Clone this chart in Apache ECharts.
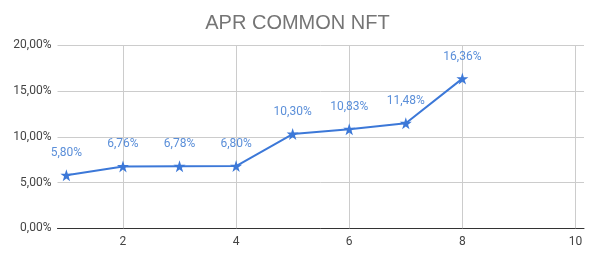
<!DOCTYPE html>
<html><head><meta charset="utf-8">
<script src="https://cdn.jsdelivr.net/npm/echarts@6/dist/echarts.min.js"></script>
<style>html,body{margin:0;padding:0;background:#fff}#c{width:595px;height:258px}</style>
</head><body><div id="c"></div>
<script>
var xValues = [1, 2, 3, 4, 5, 6, 7, 8];
var aprValues = [5.80, 6.76, 6.78, 6.80, 10.30, 10.83, 11.48, 16.36];
var xTicks = [2, 4, 6, 8, 10];
var yTicks = [0, 5, 10, 15, 20];
var title = 'APR COMMON NFT';

var star = 'path://M50,0 L61.8,35.4 L100,35.4 L69.1,57.3 L80.9,93.1 L50,71.2 L19.1,93.1 L30.9,57.3 L0,35.4 L38.2,35.4 Z';
function fmt(v){ return v.toFixed(2).replace('.', ',') + '%'; }

var chart = echarts.init(document.getElementById('c'), null, {renderer:'canvas'});
chart.setOption({
  animation:false,
  title:{text:title, left:'center', top:8, textStyle:{fontFamily:'Liberation Sans, Arial', fontSize:20, fontWeight:'normal', color:'#757575'}},
  grid:{left:57.5, right:11, top:45.3, bottom:29.7},
  xAxis:{type:'value', min:0.843, max:10.15,
    axisLine:{show:true, onZero:false, lineStyle:{color:'#333', width:1}},
    axisTick:{show:false},
    splitLine:{show:false},
    axisLabel:{customValues:xTicks, fontFamily:'Roboto', fontSize:12, color:'#444', margin:8, formatter:function(v){return String(v);}}
  },
  yAxis:{type:'value', min:yTicks[0], max:yTicks[yTicks.length-1], interval:5,
    axisLine:{show:false}, axisTick:{show:false},
    splitLine:{lineStyle:{color:'#cccccc'}},
    axisLabel:{fontFamily:'Roboto', fontSize:12, color:'#444', margin:6, formatter:function(v){return fmt(v);}}
  },
  series:[{
    type:'line',
    data:xValues.map(function(x,i){return [x, aprValues[i]];}),
    z:5,
    symbol:star, symbolSize:12,
    lineStyle:{color:'#3c78d8', width:2},
    itemStyle:{color:'#3c78d8'},
    label:{show:true, position:'top', distance:10, fontFamily:'Roboto', fontSize:12, color:'#5b8fd9',
      formatter:function(p){return fmt(p.value[1]);}},
    markLine:{silent:true, symbol:'none', label:{show:false}, z:1,
      lineStyle:{color:'#cccccc', type:'solid', width:1},
      data:xTicks.map(function(t){return {xAxis:t};})}
  }]
});
</script></body></html>
